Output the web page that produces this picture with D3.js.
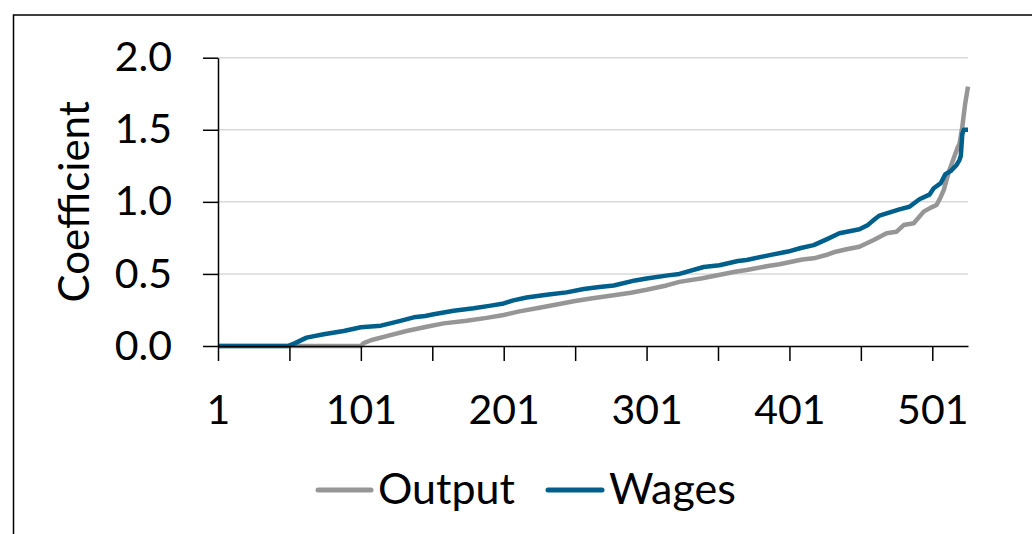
<!DOCTYPE html>
<html>
<head>
<meta charset="utf-8">
<script src="https://cdn.jsdelivr.net/npm/d3@7"></script>
<style>
  html, body { margin: 0; padding: 0; background: #fff; }
  svg { display: block; }
  text { font-family: Lato, "Open Sans", sans-serif; fill: #000; }
</style>
</head>
<body>
<svg id="chart" width="1032" height="534"></svg>
<script>
// ---- Data ----
const wagesIdx = [1, 50, 55, 63, 75, 89, 101, 115, 128, 138, 146, 152, 166, 180, 192, 201, 207, 217, 231, 245, 257, 268, 278, 293, 301, 316, 324, 341, 352, 365, 371, 388, 400, 409, 418, 427, 436, 450, 456, 460, 464, 478, 485, 492, 499, 502, 507, 510, 514, 518, 520, 521, 522, 523, 526];
const wagesVal = [0, 0, 0.02, 0.058, 0.081, 0.104, 0.13, 0.141, 0.173, 0.199, 0.208, 0.22, 0.245, 0.262, 0.28, 0.295, 0.315, 0.336, 0.355, 0.372, 0.395, 0.41, 0.42, 0.455, 0.468, 0.49, 0.5, 0.548, 0.56, 0.59, 0.597, 0.632, 0.655, 0.68, 0.7, 0.74, 0.782, 0.81, 0.84, 0.874, 0.905, 0.948, 0.966, 1.018, 1.05, 1.094, 1.13, 1.19, 1.215, 1.256, 1.29, 1.32, 1.47, 1.5, 1.5];

const outputIdx = [1, 101, 103, 108, 119, 133, 147, 159, 175, 189, 201, 212, 226, 239, 250, 262, 278, 290, 301, 315, 324, 340, 348, 363, 371, 386, 394, 410, 418, 428, 432, 441, 450, 460, 469, 476, 481, 488, 495, 500, 504, 507, 509, 511, 513, 516, 519, 520, 522, 524, 526];
const outputVal = [0, 0, 0.02, 0.04, 0.069, 0.104, 0.134, 0.157, 0.175, 0.195, 0.215, 0.24, 0.265, 0.29, 0.31, 0.33, 0.352, 0.37, 0.39, 0.42, 0.445, 0.47, 0.486, 0.515, 0.527, 0.555, 0.567, 0.6, 0.608, 0.635, 0.65, 0.671, 0.689, 0.735, 0.782, 0.793, 0.839, 0.851, 0.932, 0.96, 0.978, 1.036, 1.082, 1.152, 1.221, 1.302, 1.383, 1.4, 1.52, 1.68, 1.8];

const xTickValues = [1, 51, 101, 151, 201, 251, 301, 351, 401, 451, 501];
const xTickLabels = ["1", "101", "201", "301", "401", "501"];
const yTickValues = [0, 0.5, 1.0, 1.5, 2.0];
const seriesNames = ["Output", "Wages"];
const seriesColors = ["#969696", "#00608b"];

// ---- Layout ----
const svg = d3.select("#chart");
const plotLeft = 218, plotRight = 968, plotTop = 57.7, plotBottom = 346;

// Outer frame (clipped by the picture at right and bottom)
svg.append("rect")
  .attr("x", 13.5).attr("y", 15)
  .attr("width", 1100).attr("height", 600)
  .attr("fill", "none").attr("stroke", "#000").attr("stroke-width", 1.5);

const x = d3.scaleLinear().domain([1, 526]).range([plotLeft, plotRight]);
const y = d3.scaleLinear().domain([0, 2]).range([plotBottom, plotTop]);

// Gridlines
svg.append("g")
  .selectAll("line")
  .data(yTickValues.filter(v => v > 0))
  .join("line")
  .attr("x1", plotLeft).attr("x2", plotRight)
  .attr("y1", d => y(d)).attr("y2", d => y(d))
  .attr("stroke", "#d9d9d9").attr("stroke-width", 1.5);

// Lines
const line = d3.line().x(d => x(d[0])).y(d => y(d[1]));
const outputData = outputIdx.map((d, i) => [d, outputVal[i]]);
const wagesData = wagesIdx.map((d, i) => [d, wagesVal[i]]);

svg.append("path").datum(outputData)
  .attr("d", line).attr("fill", "none")
  .attr("stroke", seriesColors[0]).attr("stroke-width", 4.5)
  .attr("stroke-linejoin", "round");
svg.append("path").datum(wagesData)
  .attr("d", line).attr("fill", "none")
  .attr("stroke", seriesColors[1]).attr("stroke-width", 4.5)
  .attr("stroke-linejoin", "round");

// Y axis
const yAxis = d3.axisLeft(y).tickValues(yTickValues)
  .tickFormat(d3.format(".1f")).tickSizeInner(15).tickSizeOuter(0).tickPadding(31);
const gy = svg.append("g").attr("transform", `translate(${plotLeft},0)`).call(yAxis);
gy.select(".domain").attr("stroke", "#000").attr("stroke-width", 1.5);
gy.selectAll(".tick line").attr("stroke", "#000").attr("stroke-width", 1.5);
gy.selectAll(".tick text").attr("font-size", 41).attr("font-family", "Lato, 'Open Sans', sans-serif").attr("fill", "#000");

// X axis
const xAxis = d3.axisBottom(x).tickValues(xTickValues)
  .tickFormat(d => xTickLabels.includes(String(d)) ? String(d) : "")
  .tickSizeInner(15).tickSizeOuter(0).tickPadding(34);
const gx = svg.append("g").attr("transform", `translate(0,${plotBottom})`).call(xAxis);
gx.select(".domain").attr("stroke", "#000").attr("stroke-width", 1.5);
gx.selectAll(".tick line").attr("stroke", "#000").attr("stroke-width", 1.5);
gx.selectAll(".tick text").attr("font-size", 41).attr("font-family", "Lato, 'Open Sans', sans-serif").attr("fill", "#000");

// Y axis title
svg.append("text")
  .attr("transform", `translate(89,${(plotTop + plotBottom) / 2}) rotate(-90)`)
  .attr("text-anchor", "middle")
  .attr("font-size", 42)
  .text("Coefficient");

// Legend
const legendItems = [
  { name: seriesNames[0], color: seriesColors[0], x1: 318, x2: 371, tx: 378 },
  { name: seriesNames[1], color: seriesColors[1], x1: 548, x2: 602, tx: 609 }
];
const lg = svg.append("g");
legendItems.forEach(it => {
  lg.append("line").attr("x1", it.x1).attr("x2", it.x2).attr("y1", 490).attr("y2", 490)
    .attr("stroke", it.color).attr("stroke-width", 5).attr("stroke-linecap", "round");
  lg.append("text").attr("x", it.tx).attr("y", 504).attr("font-size", 43).text(it.name);
});
</script>
</body>
</html>
